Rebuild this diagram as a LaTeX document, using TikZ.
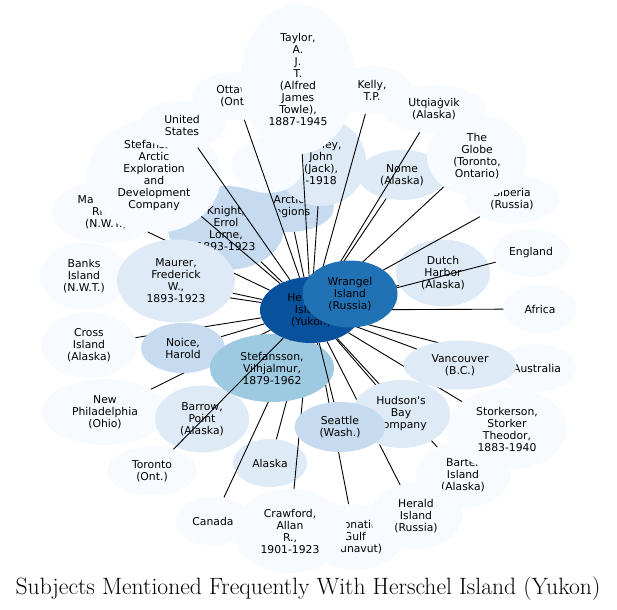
\documentclass[tikz,border=0pt]{standalone}
\usepackage{fontspec}
\newfontfamily\labelfont{DejaVu Sans}
\usepackage{tikz}
\usetikzlibrary{shapes.geometric}
\definecolor{bluHub}{HTML}{08519C}
\definecolor{bluTwo}{HTML}{2171B5}
\definecolor{bluThree}{HTML}{9ECAE1}
\definecolor{bluFour}{HTML}{C6DBEF}
\definecolor{bluFive}{HTML}{DEEBF7}
\definecolor{bluSix}{HTML}{F7FBFF}
\pgfdeclarelayer{back}
\pgfdeclarelayer{low}
\pgfdeclarelayer{mid}
\pgfdeclarelayer{high}
\pgfsetlayers{back,low,mid,high,main}

\begin{document}
\begin{tikzpicture}[x=1pt, y=-1pt,
  subj/.style n args={3}{ellipse, fill=#1, inner sep=0pt, minimum width=#2pt,
    minimum height=#3pt, align=center, font=\labelfont\fontsize{10.8}{12}\selectfont},
  link/.style={line width=0.9pt, black}]
\useasboundingbox (0,0) rectangle (617,609);
% hub: Herschel Island, Wrangel Island laid over it
\node[subj={bluHub}{102}{66}] (herschel) at (311,310) {Herschel\\Island\\(Yukon)};
\node[subj={bluTwo}{95}{67}] (wrangel) at (350,294) {Wrangel\\Island\\(Russia)};
% outer ring of subjects, back to front
\begin{pgfonlayer}{back}
\node[subj={bluFour}{90}{50}] (arctic) at (289,207) {Arctic\\Regions};
\node[subj={bluFour}{116}{84}] (knight) at (226,228) {Knight,\\Errol\\Lorne,\\1893-1923};
\node[subj={bluFive}{90}{88}] (hadley) at (321,162) {Hadley,\\John\\(Jack),\\-1918};
\fill[bluSix] (268,165) ellipse [x radius=36pt, y radius=28pt];
\node[subj={bluSix}{88}{48}] (ottawa) at (236,96) {Ottawa\\(Ont.)};
\node[subj={bluSix}{114}{150}] (taylor) at (298,79) {Taylor,\\A.\\J.\\T.\\(Alfred\\James\\Towle),\\1887-1945};
\node[subj={bluSix}{80}{48}] (kelly) at (372,90) {Kelly,\\T.P.};
\node[subj={bluSix}{104}{48}] (utqiagvik) at (434,109) {Utqiaġvik\\(Alaska)};
\node[subj={bluFive}{88}{50}] (nome) at (402,175) {Nome\\(Alaska)};
\node[subj={bluSix}{94}{48}] (siberia) at (512,199) {Siberia\\(Russia)};
\node[subj={bluSix}{100}{82}] (globe) at (477,156) {The\\Globe\\(Toronto,\\Ontario)};
\node[subj={bluSix}{76}{48}] (england) at (531,253) {England};
\node[subj={bluFive}{94}{67}] (dutch) at (443,273) {Dutch\\Harbor\\(Alaska)};
\node[subj={bluSix}{73}{49}] (africa) at (540,309) {Africa};
\node[subj={bluSix}{78}{48}] (australia) at (537,368) {Australia};
\node[subj={bluSix}{94}{66}] (barter) at (463,475) {Barter\\Island\\(Alaska)};
\node[subj={bluSix}{120}{82}] (storkerson) at (507,429) {Storkerson,\\Storker\\Theodor,\\1883-1940};
\node[subj={bluSix}{96}{66}] (coronation) at (355,537) {Coronation\\Gulf\\(Nunavut)};
\node[subj={bluSix}{92}{66}] (herald) at (416,516) {Herald\\Island\\(Russia)};
\node[subj={bluSix}{114}{84}] (crawford) at (290,531) {Crawford,\\Allan\\R.,\\1901-1923};
\node[subj={bluSix}{74}{49}] (canada) at (213,521) {Canada};
\node[subj={bluFive}{74}{48}] (alaska) at (270,463) {Alaska};
\node[subj={bluSix}{90}{49}] (toronto) at (152,471) {Toronto\\(Ont.)};
\node[subj={bluSix}{126}{66}] (newphil) at (105,412) {New\\Philadelphia\\(Ohio)};
\node[subj={bluSix}{95}{66}] (cross) at (89,345) {Cross\\Island\\(Alaska)};
\node[subj={bluSix}{88}{67}] (banks) at (84,276) {Banks\\Island\\(N.W.T.)};
\node[subj={bluSix}{108}{62}] (mackenzie) at (106,212) {Mackenzie\\River\\(N.W.T.)};
\node[subj={bluSix}{134}{114}] (stefco) at (154,176) {Stefansson\\Arctic\\Exploration\\and\\Development\\Company};
\node[subj={bluSix}{88}{48}] (unitedstates) at (182,125) {United\\States};
\end{pgfonlayer}
% inner ring, over the low links
\begin{pgfonlayer}{mid}
\node[subj={bluFive}{118}{83}] (maurer) at (176,281) {Maurer,\\Frederick\\W.,\\1893-1923};
\node[subj={bluFour}{84}{50}] (noice) at (183,348) {Noice,\\Harold};
\node[subj={bluFive}{94}{67}] (barrow) at (202,419) {Barrow,\\Point\\(Alaska)};
\node[subj={bluThree}{124}{68}] (stefansson) at (272,368) {Stefansson,\\Vilhjalmur,\\1879-1962};
\node[subj={bluFive}{113}{49}] (vancouver) at (460,365) {Vancouver\\(B.C.)};
\node[subj={bluFive}{98}{68}] (hudson) at (401,414) {Hudson's\\Bay\\Company};
\node[subj={bluFour}{91}{50}] (seattle) at (340,427) {Seattle\\(Wash.)};
\end{pgfonlayer}
% links from the hub
\begin{pgfonlayer}{low}
\foreach \t in {mackenzie,banks,cross,newphil,barrow,alaska,canada,crawford,coronation,
    herald,barter,storkerson,australia,maurer,noice}
  \draw[link] (herschel) -- (\t);
\end{pgfonlayer}
\begin{pgfonlayer}{high}
\foreach \t in {unitedstates,stefco,knight,ottawa,arctic,taylor,hadley,kelly,nome,utqiagvik,
    globe,siberia,england,dutch,africa,vancouver,hudson,seattle,stefansson,toronto}
  \draw[link] (herschel) -- (\t);
\end{pgfonlayer}
% title
\node[font=\fontsize{23.6}{28}\selectfont, anchor=base] (title) at (308,594)
  {Subjects Mentioned Frequently With Herschel Island (Yukon)};
\end{tikzpicture}
\end{document}
